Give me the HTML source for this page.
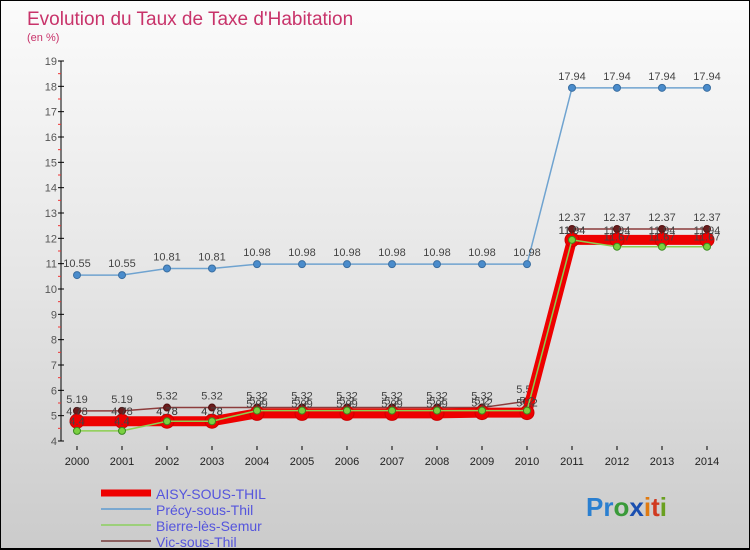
<!DOCTYPE html>
<html><head><meta charset="utf-8"><style>
body{margin:0;}
#wrap{position:relative;width:750px;height:550px;background:linear-gradient(#fbfbfb,#e6e6e6 50%,#cbcbcb);font-family:"Liberation Sans",sans-serif;overflow:hidden;border-bottom:2px solid #000;box-sizing:border-box;border-left:1px solid #000;border-right:1px solid #000;border-top:1px solid #000;}
</style></head><body>
<div id="wrap">
<svg id="svg" width="750" height="550" style="position:absolute;left:0;top:0">
<text x="26" y="24" font-size="19" fill="#c8336a">Evolution du Taux de Taxe d'Habitation</text>
<text x="26" y="40" font-size="11" fill="#c8336a">(en %)</text>
<g id="axes"></g><g id="series"></g>
<g>
<line x1="100" y1="492" x2="150" y2="492" stroke="#e00" stroke-width="7"/>
<text x="155" y="498" font-size="14" fill="#5555dd">AISY-SOUS-THIL</text>
<line x1="100" y1="508" x2="150" y2="508" stroke="#7aa8d0" stroke-width="2"/>
<text x="155" y="514" font-size="14" fill="#5555dd">Précy-sous-Thil</text>
<line x1="100" y1="524" x2="150" y2="524" stroke="#9ccf7a" stroke-width="2"/>
<text x="155" y="530" font-size="14" fill="#5555dd">Bierre-lès-Semur</text>
<line x1="100" y1="540" x2="150" y2="540" stroke="#8c6060" stroke-width="2"/>
<text x="155" y="546" font-size="14" fill="#5555dd">Vic-sous-Thil</text>
</g>
<text x="585" y="515" font-size="26" font-weight="bold"><tspan fill="#2a7fd0">Pr</tspan><tspan fill="#3a9a3a">o</tspan><tspan fill="#1a4fb0">x</tspan><tspan fill="#e07a10">i</tspan><tspan fill="#d03a20">t</tspan><tspan fill="#6aa020">i</tspan></text>
</svg>
</div>
<script>
const years=[2000,2001,2002,2003,2004,2005,2006,2007,2008,2009,2010,2011,2012,2013,2014];
const yTicks=[4,5,6,7,8,9,10,11,12,13,14,15,16,17,18,19];
const aisy=[4.78,4.78,4.78,4.78,5.09,5.09,5.09,5.09,5.09,5.12,5.12,11.94,11.94,11.94,11.94];
const precy=[10.55,10.55,10.81,10.81,10.98,10.98,10.98,10.98,10.98,10.98,10.98,17.94,17.94,17.94,17.94];
const bierre=[4.4,4.4,4.78,4.78,5.2,5.2,5.2,5.2,5.2,5.2,5.2,11.94,11.67,11.67,11.67];
const vic=[5.19,5.19,5.32,5.32,5.32,5.32,5.32,5.32,5.32,5.32,5.57,12.37,12.37,12.37,12.37];
const NS="http://www.w3.org/2000/svg";
const X=i=>76+i*45, Y=v=>440-(v-4)*(380/15);
function mk(tag,at,parent){const e=document.createElementNS(NS,tag);for(const k in at)e.setAttribute(k,at[k]);parent.appendChild(e);return e;}
const ax=document.getElementById('axes'), sg=document.getElementById('series');
const yl=mk('line',{x1:60,y1:Y(19),x2:60,y2:Y(4),stroke:'#000'},ax);


yTicks.forEach(t=>{
 mk('line',{x1:57,y1:Y(t),x2:63,y2:Y(t),stroke:'#000'},ax);
 if(t<19) mk('line',{x1:57,y1:Y(t+0.5),x2:60,y2:Y(t+0.5),stroke:'#e33'},ax);
 const tx=mk('text',{x:56,y:Y(t)+4,'font-size':11,fill:'#555','text-anchor':'end'},ax);tx.textContent=t;
 
 
});
years.forEach((yr,i)=>{
 mk('line',{x1:X(i),y1:445,x2:X(i),y2:449,stroke:'#000'},ax);
 const tx=mk('text',{x:X(i),y:464,'font-size':11,fill:'#222','text-anchor':'middle'},ax);tx.textContent=yr;
 
 
});
function series(vals,name,color,w,r,dot,dotStroke,labelDy){
 const g=mk('g',{},sg);
 
 
 mk('polyline',{points:vals.map((v,i)=>X(i)+','+Y(v)).join(' '),fill:'none',stroke:color,'stroke-width':w},g);
 vals.forEach((v,i)=>{
  const c=mk('circle',{cx:X(i),cy:Y(v),r:r,fill:dot,stroke:dotStroke,'stroke-width':1},g);
  
  
  const t=mk('text',{x:X(i),y:Y(v)+labelDy,'font-size':11,fill:'#444','text-anchor':'middle'},g);t.textContent=v;
  
  
 });
}
series(precy,'precy','#6fa3d0',1.5,3.5,'#4a8ccc','#3a6ea0',-8);
series(vic,'vic','#8c3c3c',1.5,3.5,'#6a1c1c','#501010',-8);
series(aisy,'aisy','#ee0000',10,7,'#ee0000','#cc0000',-6);
series(bierre,'bierre','#8ccf50',1.5,3.5,'#7ad040','#3a8a20',-6);
</script>
</body></html>
